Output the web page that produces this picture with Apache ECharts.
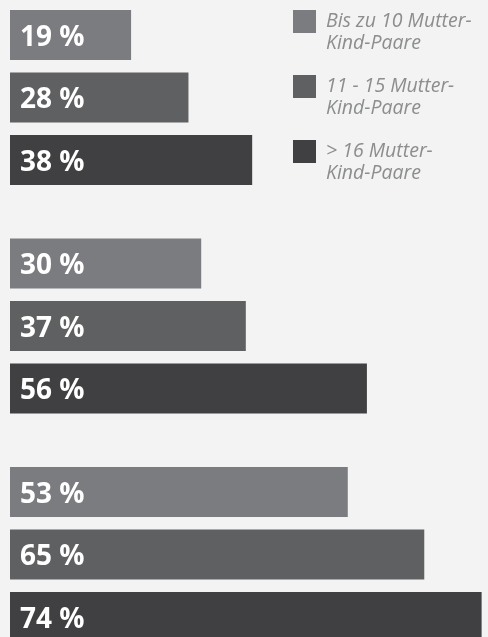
<!DOCTYPE html>
<html>
<head>
<meta charset="utf-8">
<script src="https://cdn.jsdelivr.net/npm/echarts@6/dist/echarts.min.js"></script>
<style>
  html, body { margin: 0; padding: 0; background: #f2f3f2; }
  #chart { width: 488px; height: 637px; }
</style>
</head>
<body>
<div id="chart"></div>
<script>
/* ================================
   DATA
================================ */
const groups      = ["Gruppe 1", "Gruppe 2", "Gruppe 3"];
const seriesNames = ["Bis zu 10 Mutter-\nKind-Paare", "11 - 15 Mutter-\nKind-Paare", "> 16 Mutter-\nKind-Paare"];
const upTo10      = [19, 30, 53];
const from11to15  = [28, 37, 65];
const over16      = [38, 56, 74];

const colors = ["#7b7c80", "#5f6062", "#404042"];
const FONT = "'Open Sans', 'Noto Sans', sans-serif";

/* ================================
   SERIES
================================ */
function makeSeries(name, values, i) {
  return {
    name: name,
    type: "bar",
    data: values,
    barWidth: 50,
    barGap: "25%",
    itemStyle: { color: colors[i] },
    label: {
      show: true,
      position: "insideLeft",
      distance: 10,
      offset: [0, 3],
      formatter: "{c} %",
      color: "#ffffff",
      fontSize: 28,
      fontWeight: "bold",
      fontFamily: FONT
    },
    emphasis: { disabled: true }
  };
}

const chart = echarts.init(document.getElementById("chart"));
chart.setOption({
  backgroundColor: "#f2f3f2",
  animation: false,
  legend: {
    orient: "vertical",
    left: 293,
    top: -11.5,
    padding: 0,
    itemGap: -1,
    itemWidth: 23,
    itemHeight: 23,
    icon: "rect",
    selectedMode: false,
    // empty first line keeps the first text line level with the square
    formatter: name => "\n" + name,
    textStyle: {
      color: "#8c8d8f",
      fontSize: 19.5,
      fontStyle: "italic",
      fontFamily: FONT,
      lineHeight: 22,
      padding: [0, 0, 0, 5]
    },
    data: seriesNames
  },
  grid: { left: 10, width: 478, top: -16.75, height: 685.5, outerBoundsMode: "none" },
  xAxis: {
    type: "value",
    min: 0,
    max: 75,
    show: false
  },
  yAxis: {
    type: "category",
    data: groups,
    inverse: true,
    show: false
  },
  series: [
    makeSeries(seriesNames[0], upTo10, 0),
    makeSeries(seriesNames[1], from11to15, 1),
    makeSeries(seriesNames[2], over16, 2)
  ]
});
</script>
</body>
</html>
